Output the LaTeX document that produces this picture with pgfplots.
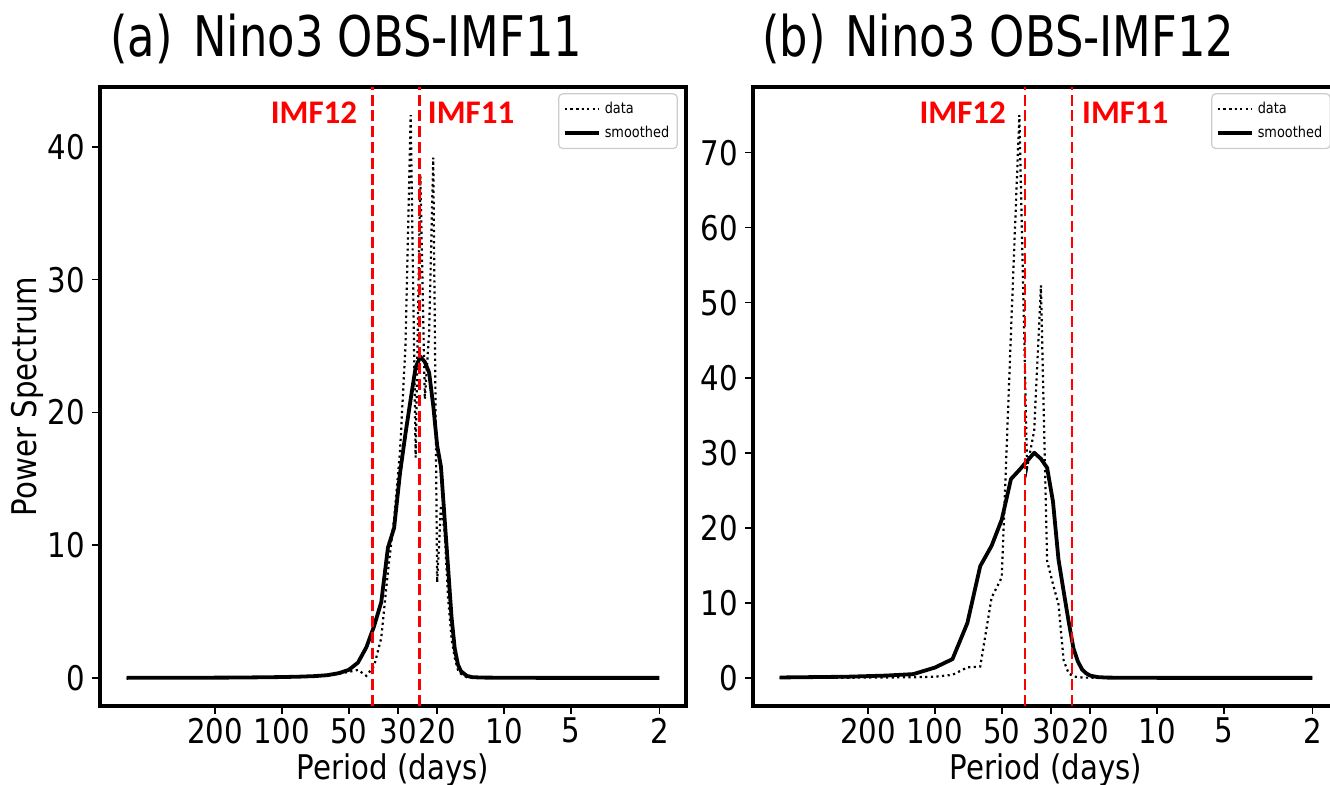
\documentclass[border=0pt]{standalone}
\usepackage{fontspec}
\setmainfont{DejaVu Sans}[FakeStretch=0.86]
\newfontfamily\titlefont{DejaVu Sans}[FakeStretch=0.8]
\newfontfamily\imffont{Carlito}
\usepackage{pgfplots}
\usepackage{pgfplotstable}
\pgfplotsset{compat=1.18}

\pgfplotstableread{
P data smooth
500 0.00 0.00
250 0.01 0.01
166.67 0.02 0.02
125 0.03 0.04
100 0.05 0.06
83.33 0.08 0.09
71.43 0.12 0.13
62.5 0.2 0.2
55.56 0.3 0.35
50 0.45 0.6
45.45 0.6 1.15
41.67 0.15 2.3
38.46 0.9 3.9
35.71 3.0 5.7
33.33 8.0 9.8
31.25 12.0 11.3
29.41 17.0 15.4
27.78 25.0 18.4
26.32 42.4 21.0
25 16.6 23.4
23.81 37.9 24.2
22.73 21.0 23.8
21.74 26.0 23.0
20.83 39.2 20.5
20 7.2 17.5
19.23 13.0 15.9
18.52 11.0 12.0
17.86 6.0 8.3
17.24 3.0 4.6
16.67 1.5 2.2
16.13 0.6 1.0
15.63 0.3 0.5
14.71 0.05 0.15
13.89 0.02 0.05
12.5 0.01 0.02
10 0 0.01
7.143 0 0
5 0 0
3.333 0 0
2.5 0 0
2 0 0
}\tableA

\pgfplotstableread{
P data smooth
500 0.0 0.05
250 0.02 0.15
166.67 0.05 0.3
125 0.08 0.5
100 0.15 1.37
83.33 0.4 2.5
71.43 1.4 7.3
62.5 1.5 14.9
55.56 10.7 17.6
50 13.4 21.1
45.45 46 26.5
41.67 75 27.7
38.46 28 28.9
35.71 33 30.0
33.33 52.3 29.2
31.25 15.6 28.0
29.41 12.5 23.5
27.78 9.8 15.8
26.32 2.3 11.5
25 0.6 7.5
23.81 0.2 4.0
22.73 0.1 2.2
21.74 0.05 1.1
20.83 0.03 0.6
20 0.02 0.3
18.52 0.01 0.1
16.67 0.01 0.03
12.5 0 0.01
10 0 0
5 0 0
2 0 0
}\tableB

\tikzset{
  datastyle/.style={black, line width=1.1pt, dash pattern=on 1.1pt off 1.7pt},
  smoothstyle/.style={black, line width=1.9pt, line join=round},
  imfline/.style={red, line width=1.1pt, dash pattern=on 5.5pt off 2.4pt},
  imflab/.style={text=red, inner sep=0pt, font=\imffont\bfseries\fontsize{16.5}{16.5}\selectfont},
  ttl/.style={anchor=base west, inner sep=0pt, font=\titlefont\fontsize{28}{28}\selectfont},
}

\begin{document}
\begin{tikzpicture}
\path[use as bounding box] (0pt,0pt) rectangle (665pt,392.5pt);

\begin{axis}[at={(50pt,39.5pt)},
    scale only axis, width=293pt, height=309.5pt, anchor=south west,
    xmode=log, x dir=reverse, xmin=1.517, xmax=659,
    xtick={200,100,50,30,20,10,5,2}, xticklabels={200,100,50,30,20,10,5,2},
    tick pos=left, tick align=outside, major tick length=4pt,
    tick style={black, line width=0.8pt},
    axis line style={line width=1.7pt},
    /pgf/number format/assume math mode=true,
    ticklabel style={font=\fontsize{17}{17}\selectfont},
    xticklabel style={yshift=1.5pt},
    label style={font=\fontsize{17}{17}\selectfont},
    xlabel={Period (days)},
    xlabel style={at={(axis description cs:0.5,-0.103)}, anchor=center},
    legend style={at={(rel axis cs:0.986,0.99)}, anchor=north east,
      font=\fontsize{7.5}{9}\selectfont, draw=black!20, rounded corners=2pt,
      line width=0.6pt, inner sep=2pt, row sep=1pt},
    legend cell align=left,
  ymin=-2.12, ymax=44.52, ytick={0,10,20,30,40},
  ylabel={Power Spectrum},
  ylabel style={at={(axis description cs:-0.123,0.5)}, anchor=center}]
\addplot[datastyle] table[x=P, y=data] {\tableA};
\addlegendentry{data}
\addplot[smoothstyle] table[x=P, y=smooth] {\tableA};
\addlegendentry{smoothed}
\addplot[imfline, forget plot] coordinates {(39.1,-2.12) (39.1,44.52)};
\addplot[imfline, forget plot] coordinates {(24.0,-2.12) (24.0,44.52)};
\node[imflab, anchor=east, xshift=-7.5pt] at (axis cs:39.1,42.56) {IMF12};
\node[imflab, anchor=west, xshift=4pt] at (axis cs:24.0,42.56) {IMF11};
\end{axis}

\begin{axis}[at={(376.5pt,39.5pt)},
    scale only axis, width=293pt, height=309.5pt, anchor=south west,
    xmode=log, x dir=reverse, xmin=1.517, xmax=659,
    xtick={200,100,50,30,20,10,5,2}, xticklabels={200,100,50,30,20,10,5,2},
    tick pos=left, tick align=outside, major tick length=4pt,
    tick style={black, line width=0.8pt},
    axis line style={line width=1.7pt},
    /pgf/number format/assume math mode=true,
    ticklabel style={font=\fontsize{17}{17}\selectfont},
    xticklabel style={yshift=1.5pt},
    label style={font=\fontsize{17}{17}\selectfont},
    xlabel={Period (days)},
    xlabel style={at={(axis description cs:0.5,-0.103)}, anchor=center},
    legend style={at={(rel axis cs:0.986,0.99)}, anchor=north east,
      font=\fontsize{7.5}{9}\selectfont, draw=black!20, rounded corners=2pt,
      line width=0.6pt, inner sep=2pt, row sep=1pt},
    legend cell align=left,
  ymin=-3.75, ymax=78.75, ytick={0,10,20,30,40,50,60,70}]
\addplot[datastyle] table[x=P, y=data] {\tableB};
\addlegendentry{data}
\addplot[smoothstyle] table[x=P, y=smooth] {\tableB};
\addlegendentry{smoothed}
\addplot[imfline, forget plot] coordinates {(39.2,-3.75) (39.2,78.75)};
\addplot[imfline, forget plot] coordinates {(24.2,-3.75) (24.2,78.75)};
\node[imflab, anchor=east, xshift=-9.5pt] at (axis cs:39.2,75.3) {IMF12};
\node[imflab, anchor=west, xshift=5pt] at (axis cs:24.2,75.3) {IMF11};
\end{axis}

\node[ttl] at (55pt,364pt) {(a)};
\node[ttl] at (96.5pt,364pt) {Nino3 OBS-IMF11};
\node[ttl] at (381pt,364pt) {(b)};
\node[ttl] at (422.5pt,364pt) {Nino3 OBS-IMF12};
\end{tikzpicture}
\end{document}
